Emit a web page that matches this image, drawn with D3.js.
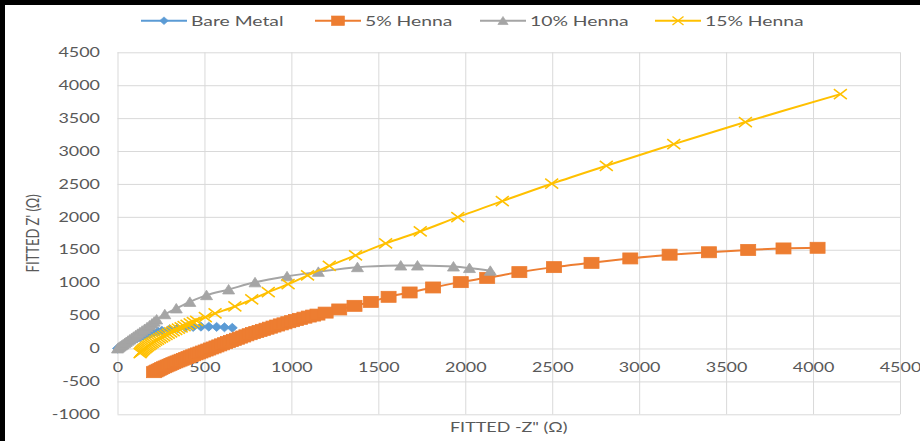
<!DOCTYPE html>
<html>
<head>
<meta charset="utf-8">
<script src="https://cdn.jsdelivr.net/npm/d3@7"></script>
<style>
  html, body { margin: 0; padding: 0; background: #fff; }
  svg { display: block; }
</style>
</head>
<body>
<svg id="chart" width="920" height="441"></svg>
<script>
// ---- data ----
const seriesNames = ["Bare Metal", "5% Henna", "10% Henna", "15% Henna"];

const bareX = [0, 9, 18, 28, 40, 52, 66, 80, 96, 112, 130, 148, 168, 188, 210, 232, 255, 300, 345, 390, 435, 480, 525, 570, 615, 660];
const bareY = [0, 14, 28, 44, 60, 78, 96, 115, 134, 153, 172, 190, 208, 225, 242, 257, 270, 292, 308, 320, 328, 332, 332, 328, 322, 314];

const henna5X = [210, 219, 228, 237, 247, 257, 267, 277, 288, 299, 310, 321, 333, 345, 357, 369, 382, 395, 408, 421, 435, 449,
                 463, 477, 492, 507, 522, 537, 553, 569, 585, 601, 618, 635, 652, 669, 687, 705, 723, 741,
                 760, 779, 798, 817, 837, 857, 877, 897, 918, 939, 960, 982, 1004, 1027, 1050, 1075, 1100, 1125, 1150, 1197,
                 1275, 1363, 1457, 1559, 1680, 1815, 1974,
                 2126, 2311, 2510, 2726, 2949, 3175, 3401, 3627, 3830, 4026];
const henna5Y = [-360, -348, -335, -323, -310, -298, -285, -273, -260, -248, -235, -223, -210, -197, -184, -171, -158, -145, -131, -117, -103, -89,
                 -75, -61, -46, -31, -16, 0, 15, 31, 47, 63, 80, 97, 114, 131, 148, 165, 182, 200,
                 217, 234, 250, 267, 283, 300, 316, 333, 349, 366, 382, 399, 415, 433, 450, 468, 485, 500, 515, 545,
                 593, 648, 708, 785, 851, 927, 1008,
                 1073, 1160, 1236, 1301, 1368, 1425, 1462, 1497, 1520, 1530];

const henna10X = [0, 7, 15, 23, 32, 41, 50, 60, 70, 81, 92, 104, 116, 129, 142, 156, 170, 184, 198, 211, 225, 272, 338, 416, 512, 639, 791, 975, 1155, 1380, 1629, 1725, 1932, 2024, 2144];
const henna10Y = [0, 15, 30, 46, 62, 80, 98, 117, 136, 157, 178, 200, 222, 246, 270, 296, 322, 350, 378, 408, 440, 520, 608, 708, 810, 897, 1005, 1096, 1164, 1235, 1260, 1260, 1245, 1222, 1180];

const henna15X = [130, 135, 140, 146, 152, 159, 166, 174, 182, 191, 200, 210, 220, 231, 242, 254, 266, 279, 292, 306, 320, 335, 350, 366,
                  383, 400, 418, 436, 455, 505, 561, 675, 772, 867,
                  981, 1093, 1218, 1369, 1542, 1741, 1957, 2213, 2497, 2811, 3199, 3611, 4157];
const henna15Y = [-70, -55, -40, -25, -10, 5, 20, 36, 52, 68, 85, 101, 118, 135, 152, 170, 188, 206, 225, 243, 262, 281, 300, 320,
                  340, 360, 380, 400, 420, 475, 532, 638, 745, 856,
                  977, 1110, 1256, 1414, 1596, 1778, 1996, 2239, 2503, 2776, 3105, 3440, 3865];

const xTicks = [0, 500, 1000, 1500, 2000, 2500, 3000, 3500, 4000, 4500];
const yTicks = [-1000, -500, 0, 500, 1000, 1500, 2000, 2500, 3000, 3500, 4000, 4500];

const xTitle = "FITTED -Z\" (\u03A9)";
const yTitle = "FITTED Z' (\u03A9)";

// ---- styling ----
const colors = ["#5B9BD5", "#ED7D31", "#A5A5A5", "#FFC000"];
const markers = ["diamond", "square", "triangle", "cross"];
const textColor = "#595959";
const gridColor = "#D9D9D9";
const FONT = "Lato, 'Open Sans', sans-serif";
const SX = 1.38; // horizontal text stretch

const series = [
  { name: seriesNames[0], xs: bareX,    ys: bareY },
  { name: seriesNames[1], xs: henna5X,  ys: henna5Y },
  { name: seriesNames[2], xs: henna10X, ys: henna10Y },
  { name: seriesNames[3], xs: henna15X, ys: henna15Y }
].map((s, i) => ({
  ...s,
  color: colors[i],
  marker: markers[i],
  points: s.xs.map((v, k) => ({ x: v, y: s.ys[k] }))
}));

const svg = d3.select("#chart");

// page frame
svg.append("rect").attr("x", 0).attr("y", 0).attr("width", 920).attr("height", 441).attr("fill", "#fff");
svg.append("rect").attr("x", 0).attr("y", 0).attr("width", 920).attr("height", 5).attr("fill", "#000");
svg.append("rect").attr("x", 0).attr("y", 0).attr("width", 5).attr("height", 441).attr("fill", "#000");

const x = d3.scaleLinear().domain([0, 4500]).range([117.5, 900]);
const y = d3.scaleLinear().domain([-1000, 4500]).range([414.3, 52.3]);

const plotH = y(-1000) - y(4500);
const plotW = x(4500) - x(0);

// vertical gridlines
const gxGrid = svg.append("g")
  .attr("transform", `translate(0,${y(-1000)})`)
  .call(d3.axisBottom(x).tickValues(xTicks).tickSize(-plotH).tickFormat(""));
gxGrid.select(".domain").remove();
gxGrid.selectAll("line").attr("stroke", gridColor).attr("stroke-width", 1);

// horizontal gridlines
const gyGrid = svg.append("g")
  .attr("transform", `translate(${x(0)},0)`)
  .call(d3.axisLeft(y).tickValues(yTicks).tickSize(-plotW).tickFormat(""));
gyGrid.select(".domain").remove();
gyGrid.selectAll("line").attr("stroke", gridColor).attr("stroke-width", 1);

// x tick labels sit just below the zero line
const gxLab = svg.append("g")
  .attr("transform", `translate(0,${y(0)})`)
  .call(d3.axisBottom(x).tickValues(xTicks).tickSize(0).tickPadding(14).tickFormat(d => String(d)));
gxLab.select(".domain").remove();
gxLab.attr("font-family", FONT).attr("font-size", 13);
gxLab.selectAll("text").attr("fill", textColor).attr("transform", `scale(${SX},1)`);

// y tick labels
const yPad = 17.5;
const gyLab = svg.append("g")
  .attr("transform", `translate(${x(0)},0)`)
  .call(d3.axisLeft(y).tickValues(yTicks).tickSize(0).tickPadding(yPad).tickFormat(d => String(d)));
gyLab.select(".domain").remove();
gyLab.attr("font-family", FONT).attr("font-size", 13);
gyLab.selectAll("text")
  .attr("fill", textColor)
  .attr("x", -yPad / SX)
  .attr("transform", `scale(${SX},1)`);

// axis titles
svg.append("text")
  .attr("transform", `translate(${(x(0) + x(4500)) / 2},${427}) scale(${SX},1)`)
  .attr("text-anchor", "middle").attr("dy", "0.35em")
  .attr("font-family", FONT).attr("font-size", 13).attr("fill", textColor)
  .text(xTitle);

svg.append("text")
  .attr("transform", `translate(33,${(y(-1000) + y(4500)) / 2}) scale(${SX},1) rotate(-90)`)
  .attr("text-anchor", "middle").attr("dy", "0.35em")
  .attr("font-family", FONT).attr("font-size", 13).attr("fill", textColor)
  .text(yTitle);

// marker shapes
function drawMarker(g, type, color) {
  if (type === "diamond") {
    g.append("path").attr("d", "M0,-4.5L5,0L0,4.5L-5,0Z").attr("fill", color).attr("stroke", color).attr("stroke-width", 0.8);
  } else if (type === "square") {
    g.append("rect").attr("x", -7.5).attr("y", -5.5).attr("width", 15).attr("height", 11)
      .attr("fill", color).attr("stroke", color).attr("stroke-width", 0.8);
  } else if (type === "triangle") {
    g.append("path").attr("d", "M0,-5L6,4.5L-6,4.5Z").attr("fill", color).attr("stroke", color).attr("stroke-width", 0.8);
  } else {
    g.append("path").attr("d", "M-6.5,-5L6.5,5M-6.5,5L6.5,-5").attr("fill", "none").attr("stroke", color).attr("stroke-width", 1.6);
  }
}

// series lines and markers
const line = d3.line().x(d => x(d.x)).y(d => y(d.y)).curve(d3.curveCatmullRom.alpha(0.5));

series.forEach(s => {
  const g = svg.append("g");
  g.append("path").datum(s.points)
    .attr("d", line)
    .attr("fill", "none")
    .attr("stroke", s.color)
    .attr("stroke-width", 2)
    .attr("stroke-linejoin", "round");
  g.selectAll("g.m").data(s.points).enter().append("g")
    .attr("class", "m")
    .attr("transform", d => `translate(${x(d.x)},${y(d.y)})`)
    .each(function () { drawMarker(d3.select(this), s.marker, s.color); });
});

// legend
const legendStarts = [141, 315, 480, 655];
const legendY = 20.7;
const legendLine = 46;
series.forEach((s, i) => {
  const g = svg.append("g").attr("transform", `translate(${legendStarts[i]},${legendY})`);
  g.append("line").attr("x1", 0).attr("x2", legendLine).attr("y1", 0).attr("y2", 0)
    .attr("stroke", s.color).attr("stroke-width", 2);
  const m = g.append("g").attr("transform", `translate(${legendLine / 2},0) scale(0.85)`);
  drawMarker(m, s.marker, s.color);
  g.append("text")
    .attr("transform", `translate(${legendLine + 4},0) scale(${SX},1)`)
    .attr("dy", "0.35em")
    .attr("font-family", FONT).attr("font-size", 14).attr("fill", textColor)
    .text(s.name);
});
</script>
</body>
</html>
